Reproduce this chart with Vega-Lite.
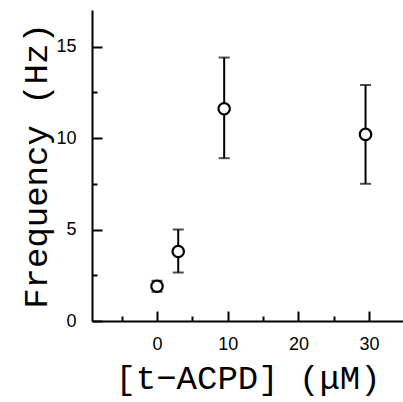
{
  "$schema": "https://vega.github.io/schema/vega-lite/v6.json",
  "width": 311,
  "height": 311,
  "autosize": "none",
  "padding": {"left": 92, "top": 10, "right": 0, "bottom": 81},
  "background": "white",
  "config": {
    "view": {"stroke": null},
    "axis": {
      "grid": false,
      "domainColor": "black",
      "domainWidth": 2,
      "tickColor": "black",
      "tickWidth": 2,
      "labelColor": "black",
      "titleColor": "black",
      "labelFont": "Liberation Sans",
      "labelFontSize": 18,
      "titleFont": "Liberation Mono",
      "titleFontSize": 34,
      "titleFontWeight": "normal"
    }
  },
  "data": {
    "values": [
      {"conc": 0, "freq": 1.9, "lo": 1.6, "hi": 2.2},
      {"conc": 3, "freq": 3.8, "lo": 2.65, "hi": 5.0},
      {"conc": 9.5, "freq": 11.6, "lo": 8.9, "hi": 14.4},
      {"conc": 29.5, "freq": 10.2, "lo": 7.5, "hi": 12.9}
    ]
  },
  "encoding": {
    "x": {
      "field": "conc",
      "type": "quantitative",
      "scale": {"domain": [-9.2, 34.8], "nice": false, "zero": false},
      "axis": {
        "title": "[t−ACPD] (μM)",
        "values": [-5, 0, 5, 10, 15, 20, 25, 30],
        "labelExpr": "datum.value % 10 === 0 ? datum.label : ''",
        "tickSize": {"condition": {"test": "datum.value % 10 === 0", "value": -10}, "value": -5},
        "labelPadding": 24,
        "titleBaseline": "alphabetic",
        "titleY": 67
      }
    }
  },
  "layer": [
    {
      "mark": {"type": "rule", "color": "black", "strokeWidth": 2},
      "encoding": {
        "y": {
          "field": "lo",
          "type": "quantitative",
          "scale": {"domain": [0, 17], "nice": false},
          "axis": {
            "title": "Frequency (Hz)",
            "values": [0, 2.5, 5, 7.5, 10, 12.5, 15],
            "labelExpr": "datum.value % 5 === 0 ? datum.label : ''",
            "tickSize": {"condition": {"test": "datum.value % 5 === 0", "value": -10}, "value": -5},
            "labelPadding": 26,
            "titleBaseline": "alphabetic",
            "titleX": -46
          }
        },
        "y2": {"field": "hi"}
      }
    },
    {
      "mark": {"type": "tick", "orient": "horizontal", "size": 11, "thickness": 2, "color": "black"},
      "encoding": {"y": {"field": "lo", "type": "quantitative", "title": "Frequency (Hz)"}}
    },
    {
      "mark": {"type": "tick", "orient": "horizontal", "size": 11, "thickness": 2, "color": "black"},
      "encoding": {"y": {"field": "hi", "type": "quantitative", "title": "Frequency (Hz)"}}
    },
    {
      "mark": {"type": "point", "shape": "circle", "filled": true, "fill": "white", "stroke": "black", "strokeWidth": 2.2, "size": 130, "opacity": 1},
      "encoding": {"y": {"field": "freq", "type": "quantitative", "title": "Frequency (Hz)"}}
    }
  ]
}
